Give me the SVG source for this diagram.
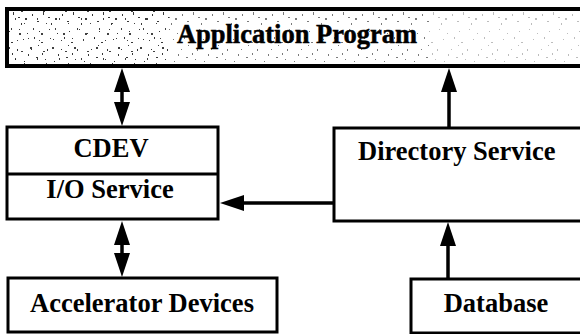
<svg xmlns="http://www.w3.org/2000/svg" width="580" height="334" viewBox="0 0 580 334">
<style>
.box{fill:#fff;stroke:#000;stroke-width:3}
.lbl{font-family:"Liberation Serif","Times New Roman",serif;font-weight:bold;font-size:26.5px;fill:#000}
.con{stroke:#000;stroke-width:3.5;fill:none}
</style>
<defs>
<marker id="ah" viewBox="0 0 24 16" markerWidth="24" markerHeight="16" refX="4" refY="8" orient="auto-start-reverse" markerUnits="userSpaceOnUse">
<path d="M0,0 L24,8 L0,16 z" fill="#000"/>
</marker>
<pattern id="sp" width="30" height="56" x="0" y="9" patternUnits="userSpaceOnUse">
<g fill="#222">
<rect x="2" y="5" width="1" height="2"/><rect x="7" y="12" width="2" height="1"/><rect x="13" y="3" width="1" height="3"/>
<rect x="19" y="20" width="1" height="1"/><rect x="25" y="9" width="2" height="2"/><rect x="4" y="28" width="1" height="2"/>
<rect x="11" y="33" width="2" height="1"/><rect x="17" y="40" width="1" height="2"/><rect x="23" y="30" width="1" height="1"/>
<rect x="28" y="45" width="1" height="2"/><rect x="6" y="48" width="2" height="1"/><rect x="15" y="50" width="1" height="1"/>
<rect x="21" y="14" width="1" height="2"/><rect x="9" y="22" width="1" height="1"/><rect x="27" y="24" width="1" height="1"/>
<rect x="1" y="40" width="1" height="1"/><rect x="12" y="44" width="1" height="2"/><rect x="18" y="8" width="2" height="1"/>
<rect x="24" y="52" width="1" height="1"/><rect x="8" y="36" width="1" height="1"/>
</g>
</pattern>
<pattern id="sp2" width="22" height="40" x="5" y="3" patternUnits="userSpaceOnUse">
<g fill="#111">
<rect x="3" y="4" width="2" height="2"/><rect x="10" y="15" width="1" height="2"/><rect x="16" y="8" width="2" height="1"/>
<rect x="6" y="25" width="1" height="2"/><rect x="14" y="30" width="2" height="2"/><rect x="19" y="20" width="1" height="1"/>
<rect x="1" y="35" width="1" height="1"/><rect x="12" y="37" width="1" height="1"/>
</g>
</pattern>
</defs>

<g id="application-program">
<rect x="7" y="9" width="590" height="57" fill="#fff" stroke="#000" stroke-width="4"/>
<rect x="9" y="11" width="160" height="53" fill="url(#sp)" opacity="0.9"/>
<rect x="9" y="11" width="160" height="53" fill="url(#sp2)" opacity="0.8"/>
<rect x="169" y="11" width="260" height="53" fill="url(#sp)" opacity="0.6"/>
<rect x="429" y="11" width="151" height="53" fill="url(#sp)" opacity="0.3"/>
<text class="lbl" x="297" y="43" text-anchor="middle" stroke="#000" stroke-width="0.5">Application Program</text>
</g>

<g id="cdev-io-service">
<rect class="box" x="7" y="127" width="211" height="92"/>
<line x1="7" y1="174" x2="218" y2="174" stroke="#000" stroke-width="3"/>
<text class="lbl" x="111" y="157" text-anchor="middle">CDEV</text>
<text class="lbl" x="110" y="198" text-anchor="middle">I/O Service</text>
</g>

<g id="directory-service">
<rect class="box" x="334" y="128" width="260" height="93"/>
<text class="lbl" x="358" y="160">Directory Service</text>
</g>

<g id="accelerator-devices">
<rect class="box" x="8" y="278" width="269" height="54"/>
<text class="lbl" x="142" y="312" text-anchor="middle">Accelerator Devices</text>
</g>

<g id="database">
<rect class="box" x="411" y="279" width="200" height="54"/>
<text class="lbl" x="496" y="312" text-anchor="middle">Database</text>
</g>

<g id="connectors">
<line class="con" x1="122" y1="88" x2="122" y2="106" marker-start="url(#ah)" marker-end="url(#ah)"/>
<line class="con" x1="449" y1="127" x2="449" y2="88" marker-end="url(#ah)"/>
<line class="con" x1="333" y1="203" x2="240" y2="203" marker-end="url(#ah)"/>
<line class="con" x1="122" y1="241" x2="122" y2="257" marker-start="url(#ah)" marker-end="url(#ah)"/>
<line class="con" x1="448" y1="278" x2="448" y2="242" marker-end="url(#ah)"/>
</g>
</svg>
